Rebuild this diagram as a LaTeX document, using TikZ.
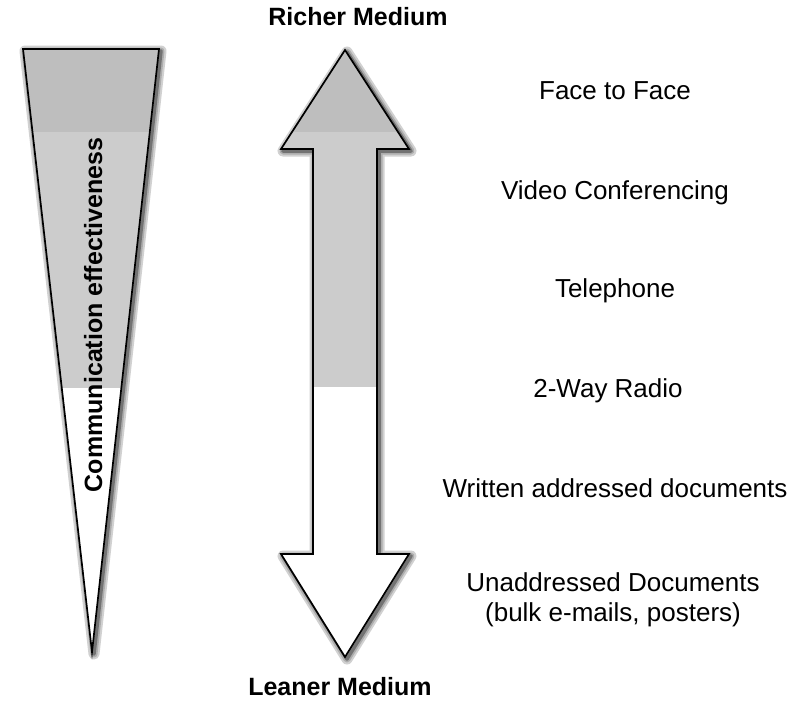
\documentclass[tikz,border=0pt]{standalone}
\usepackage{fontspec}
\setmainfont{Liberation Sans}
\definecolor{darkband}{HTML}{BEBEBE}
\definecolor{lightband}{HTML}{CCCCCC}
\tikzset{
  tripath/.style={insert path={(23,49) -- (159,49) -- (92,652) -- cycle}},
  arrpath/.style={insert path={(345,50) -- (409,149) -- (377,149) -- (377,554) -- (409,554) -- (345,657) -- (281,554) -- (313,554) -- (313,149) -- (281,149) -- cycle}},
  shadowA/.style={draw=black!18, line width=11pt, line join=round, shift={(2,2)}},
  shadowB/.style={draw=black!32, line width=7pt, line join=round, shift={(2,2)}},
  shadowC/.style={draw=black!55, line width=3.5pt, line join=round, shift={(2,2)}},
  outline/.style={draw=black, line width=1.7pt, line join=miter},
  boldlabel/.style={font=\bfseries\fontsize{25}{30}\selectfont, inner sep=0pt},
  medium/.style={font=\fontsize{26}{30}\selectfont, inner sep=0pt, align=center},
}
\begin{document}
\begin{tikzpicture}[x=1pt,y=-1pt]
\useasboundingbox[fill=white] (0,0) rectangle (798,705);

% shadows
\path[shadowA, tripath];
\path[shadowB, tripath];
\path[shadowC, tripath];
\path[shadowA, arrpath];
\path[shadowB, arrpath];
\path[shadowC, arrpath];

% fills
\path[fill=white, tripath];
\path[fill=white, arrpath];
\begin{scope}
  \clip[tripath];
  \fill[darkband] (0,40) rectangle (200,132);
  \fill[lightband] (0,132) rectangle (200,388);
\end{scope}
\begin{scope}
  \clip[arrpath];
  \fill[darkband] (270,40) rectangle (420,132);
  \fill[lightband] (270,132) rectangle (420,387);
\end{scope}

% outlines
\path[outline, tripath];
\path[outline, arrpath];

% labels
\node[boldlabel, anchor=base] (rich) at (358,25) {Richer Medium};
\node[boldlabel, anchor=base] (lean) at (340,695) {Leaner Medium};
\node[boldlabel, rotate=90, anchor=base] (ce) at (102,315) {Communication effectiveness};

\node[medium, anchor=base] (f2f) at (615,99) {Face to Face};
\node[medium, anchor=base] (video) at (615,199) {Video Conferencing};
\node[medium, anchor=base] (tel) at (615,297) {Telephone};
\node[medium, anchor=base] (radio) at (608,397) {2-Way Radio};
\node[medium, anchor=base] (written) at (615,497) {Written addressed documents};
\node[medium, anchor=center] (unaddr) at (613,600) {Unaddressed Documents\\(bulk e-mails, posters)};
\end{tikzpicture}
\end{document}
